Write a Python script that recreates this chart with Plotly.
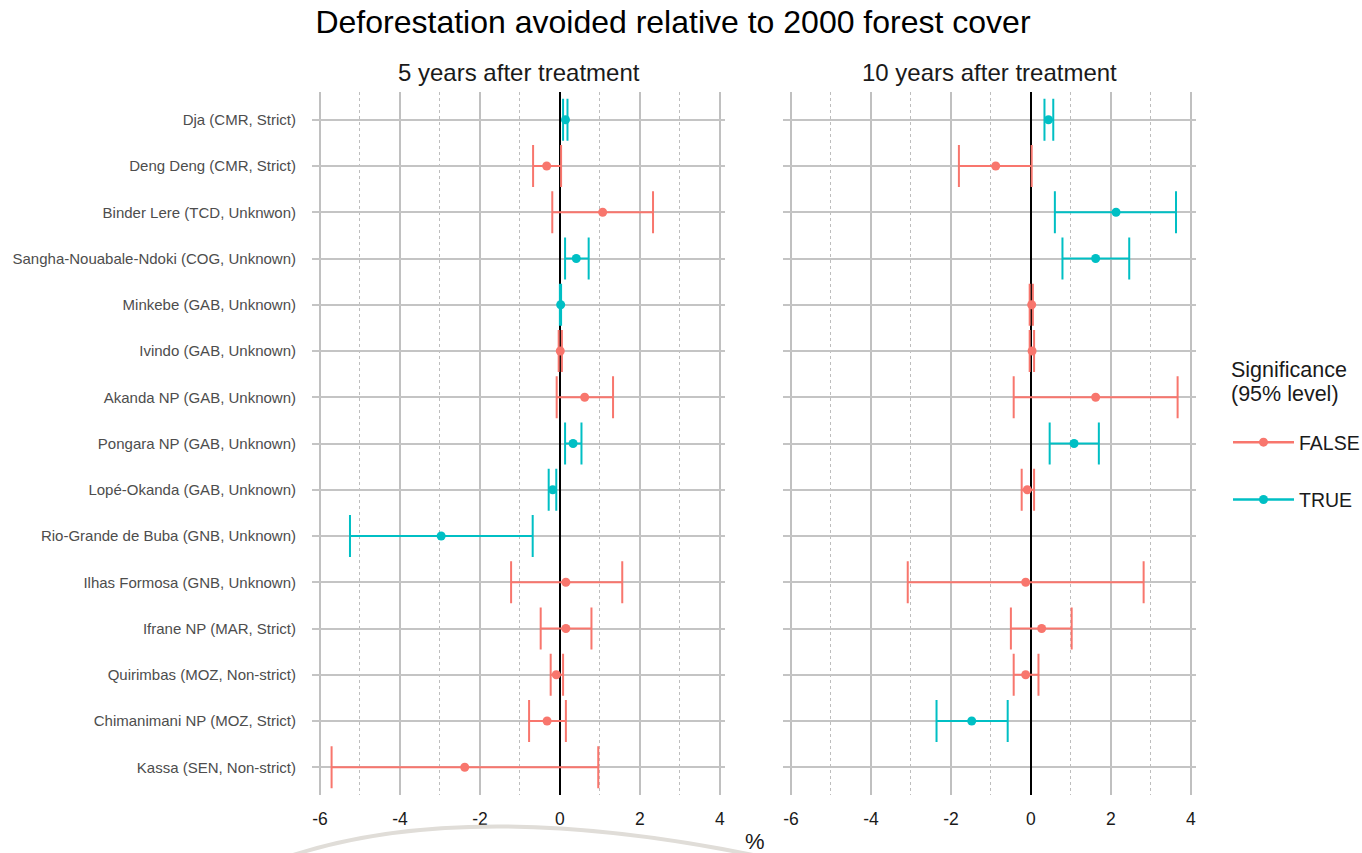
import plotly.graph_objects as go

sites = ["Dja (CMR, Strict)", "Deng Deng (CMR, Strict)", "Binder Lere (TCD, Unknwon)",
         "Sangha-Nouabale-Ndoki (COG, Unknown)", "Minkebe (GAB, Unknown)", "Ivindo (GAB, Unknown)",
         "Akanda NP (GAB, Unknown)", "Pongara NP (GAB, Unknown)", "Lopé-Okanda (GAB, Unknown)",
         "Rio-Grande de Buba (GNB, Unknown)", "Ilhas Formosa (GNB, Unknown)", "Ifrane NP (MAR, Strict)",
         "Quirimbas (MOZ, Non-strict)", "Chimanimani NP (MOZ, Strict)", "Kassa (SEN, Non-strict)"]

est5 = [0.14, -0.33, 1.07, 0.41, 0.02, 0.01, 0.62, 0.33, -0.18, -2.97, 0.15, 0.15, -0.09, -0.32, -2.38]
lo5 = [0.08, -0.67, -0.19, 0.13, 0.00, -0.03, -0.08, 0.13, -0.28, -5.25, -1.22, -0.48, -0.23, -0.77, -5.71]
hi5 = [0.19, 0.03, 2.33, 0.72, 0.03, 0.05, 1.33, 0.54, -0.09, -0.68, 1.56, 0.79, 0.08, 0.15, 0.96]
sig5 = [True, False, False, True, True, False, False, True, True, True, False, False, False, False, False]

est10 = [0.44, -0.88, 2.13, 1.62, 0.02, 0.03, 1.62, 1.08, -0.09, None, -0.13, 0.27, -0.13, -1.48, None]
lo10 = [0.34, -1.80, 0.60, 0.79, -0.03, -0.03, -0.43, 0.47, -0.23, None, -3.08, -0.50, -0.43, -2.36, None]
hi10 = [0.56, 0.02, 3.63, 2.46, 0.05, 0.08, 3.67, 1.70, 0.08, None, 2.82, 1.02, 0.19, -0.58, None]
sig10 = [True, False, True, True, False, False, False, True, False, None, False, False, False, True, None]

panel_titles = ["5 years after treatment", "10 years after treatment"]
x_ticks = [-6, -4, -2, 0, 2, 4]
x_minor = [-5, -3, -1, 1, 3]
legend_title = ["Significance", "(95% level)"]

COL = {False: "#F8766D", True: "#00BFC4"}
FONT = "Liberation Sans, Arial, sans-serif"

fig = go.Figure()

def add_panel(est, lo, hi, sig, xa):
    for flag in (False, True):
        idx = [i for i in range(len(sites)) if est[i] is not None and sig[i] == flag]
        if not idx:
            continue
        xs = [est[i] for i in idx]
        fig.add_trace(go.Scatter(
            x=xs, y=[sites[i] for i in idx], mode="markers", xaxis=xa, yaxis="y",
            showlegend=False, cliponaxis=False,
            marker=dict(color=COL[flag], size=9),
            error_x=dict(type="data", symmetric=False,
                         array=[hi[i] - est[i] for i in idx],
                         arrayminus=[est[i] - lo[i] for i in idx],
                         color=COL[flag], thickness=2, width=21)))

add_panel(est5, lo5, hi5, sig5, "x")
add_panel(est10, lo10, hi10, sig10, "x2")

for flag, name in ((False, "FALSE"), (True, "TRUE")):
    fig.add_trace(go.Scatter(x=[None], y=[None], mode="lines+markers", name=name,
                             legendgroup=name, xaxis="x", yaxis="y",
                             line=dict(color=COL[flag], width=2.5),
                             marker=dict(color=COL[flag], size=9)))

L, R, T, B = 312, 1196, 92, 795
W, H = 1362, 853
pw = R - L
ph = B - T
d1 = (725 - L) / pw
d2 = (783 - L) / pw

def px(x):
    return (x - L) / pw

def py(y):
    return (B - y) / ph

xcommon = dict(range=[-6.2, 4.13], tickvals=x_ticks, ticktext=[str(v) for v in x_ticks],
               showgrid=True, gridcolor="#c0c0c0", gridwidth=1.5,
               zeroline=True, zerolinecolor="black", zerolinewidth=2,
               minor=dict(tickvals=x_minor, showgrid=True, gridcolor="#bdbdbd",
                          griddash="3px,3px", gridwidth=1),
               showline=False, ticks="", tickfont=dict(size=17.5, color="#1a1a1a", family=FONT),
               ticklabelstandoff=11, anchor="y", automargin=False)

fig.update_layout(
    width=W, height=H,
    margin=dict(l=L, r=W - R, t=T, b=H - B, autoexpand=False),
    paper_bgcolor="white", plot_bgcolor="white",
    font=dict(family=FONT, color="#1a1a1a"),
    title=dict(text="Deforestation avoided relative to 2000 forest cover",
               x=673 / W, xanchor="center", y=1 - 22 / H, yanchor="middle",
               font=dict(size=32, color="#000000", family=FONT)),
    xaxis=dict(domain=[0, d1], **xcommon),
    xaxis2=dict(domain=[d2, 1], **xcommon),
    yaxis=dict(type="category", categoryorder="array", categoryarray=sites,
               range=[14.6, -0.6], showgrid=True, gridcolor="#c4c4c4", gridwidth=1.5,
               zeroline=False, ticks="", ticklabelstandoff=15, automargin=False,
               tickfont=dict(size=15, color="#4d4d4d", family=FONT), anchor="x"),
    legend=dict(x=px(1228), xanchor="left", y=py(423), yanchor="top",
                font=dict(size=19.5, color="#1a1a1a"), tracegroupgap=29, itemwidth=61,
                bgcolor="rgba(0,0,0,0)"),
    showlegend=True,
)

for i, t in enumerate(panel_titles):
    cx = (d1 / 2) if i == 0 else (d2 + 1) / 2
    fig.add_annotation(text=t, x=cx, y=py(72), xref="paper", yref="paper",
                       xanchor="center", yanchor="middle", showarrow=False,
                       font=dict(size=24, color="#1a1a1a", family=FONT))

for j, (t, yy) in enumerate(zip(legend_title, (370, 394))):
    fig.add_annotation(text=t, x=px(1229), y=py(yy), xref="paper", yref="paper",
                       xanchor="left", yanchor="middle", showarrow=False,
                       font=dict(size=21.5, color="#1a1a1a", family=FONT))

fig.add_annotation(text="%", x=px(755), y=py(841), xref="paper", yref="paper",
                   xanchor="center", yanchor="middle", showarrow=False,
                   font=dict(size=22, color="#1a1a1a", family=FONT))

# faint decorative arc at the bottom edge
fig.add_shape(type="path", xref="paper", yref="paper",
              path=f"M {px(290)} {py(856)} Q {px(470)} {py(797)} {px(758)} {py(856)}",
              line=dict(color="#e0ddd8", width=4), layer="above")

fig.write_html("out.html")
